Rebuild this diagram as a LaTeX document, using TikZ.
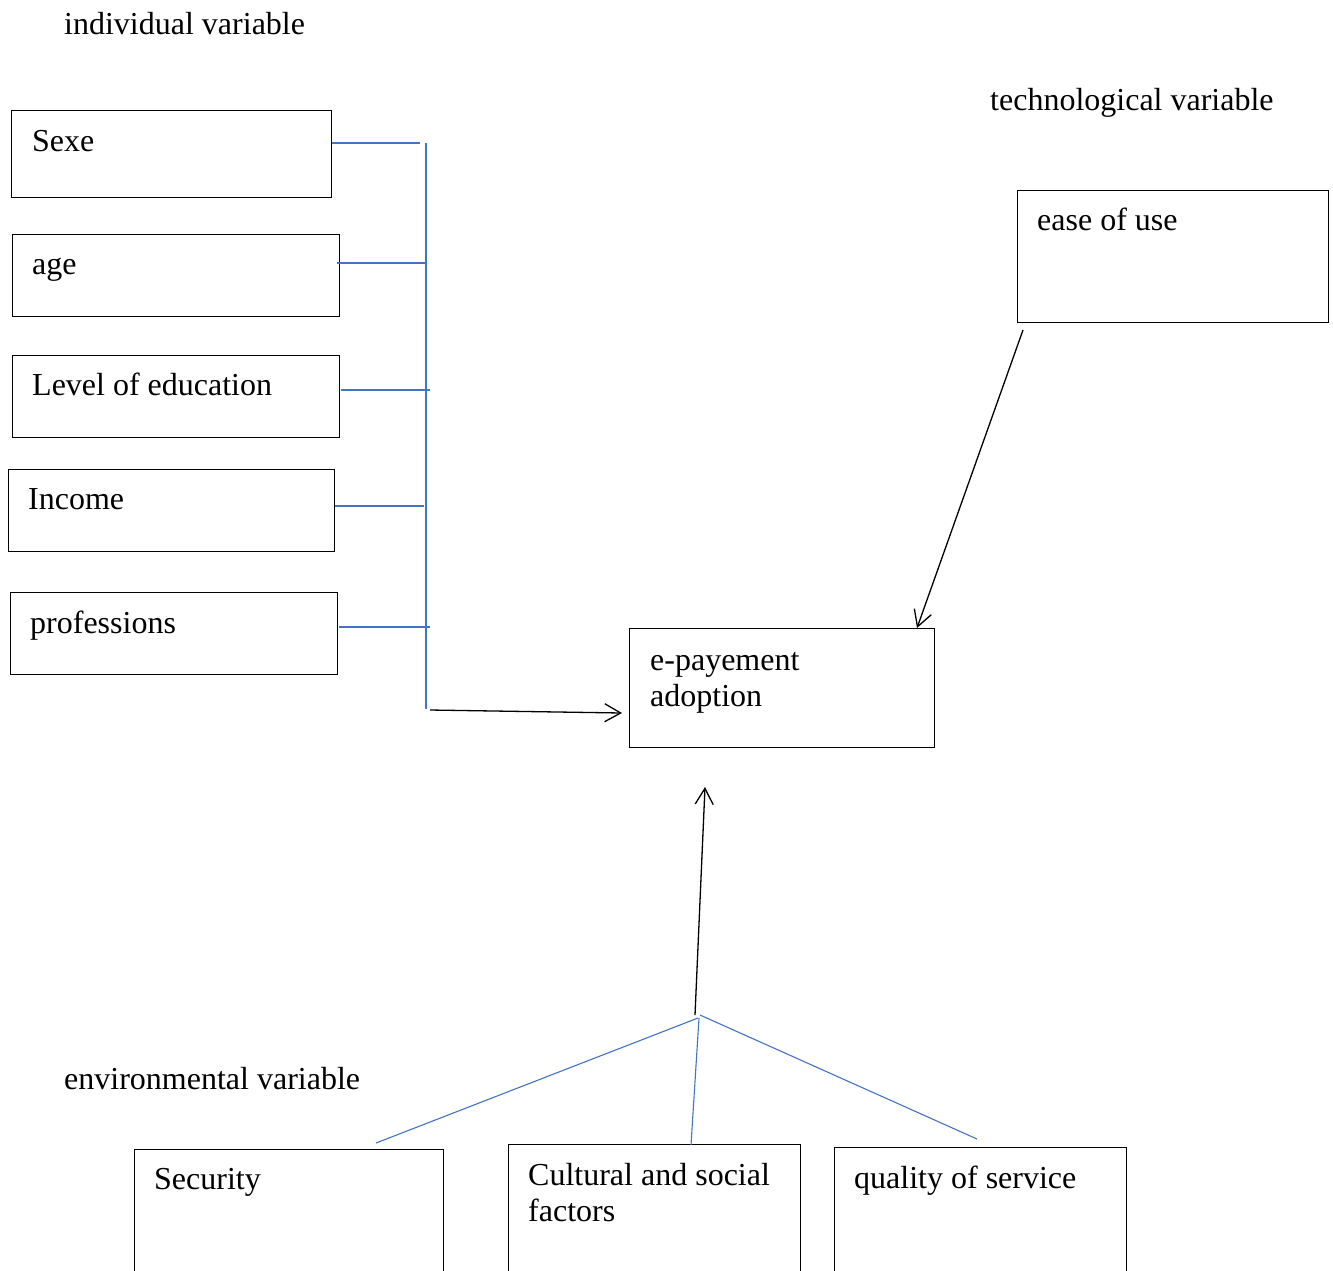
\documentclass[tikz,border=0pt]{standalone}
\usepackage{fontspec}
\setmainfont{Liberation Serif}
\usetikzlibrary{arrows.meta}
\definecolor{linkblue}{HTML}{4472C4}
\begin{document}
\begin{tikzpicture}[x=1pt,y=-1pt,
  box/.style={draw=black,line width=1.2pt,rectangle,inner sep=0pt,anchor=north west},
  txt/.style={anchor=base west,inner sep=0pt,align=left,font=\fontsize{32}{36}\selectfont},
  blue/.style={draw=linkblue,line width=1.1pt},
  arr/.style={draw=black,line width=1.3pt,-{Straight Barb[length=16pt,width=18pt,line width=1.3pt]}}]
\useasboundingbox[fill=white] (0,0) rectangle (1333,1270);
\clip (0,0) rectangle (1333,1270);
% headings
\node[txt] (hind) at (64,34) {individual variable};
\node[txt] (htech) at (990,110) {technological variable};
\node[txt] (henv) at (64,1089) {environmental variable};
% individual boxes
\node[box,minimum width=320pt,minimum height=87pt] (sexe) at (11,110) {};
\node[txt] at (32,151) {Sexe};
\node[box,minimum width=327pt,minimum height=82pt] (age) at (12,234) {};
\node[txt] at (32,274) {age};
\node[box,minimum width=327pt,minimum height=82pt] (edu) at (12,355) {};
\node[txt] at (32,395) {Level of education};
\node[box,minimum width=326pt,minimum height=82pt] (inc) at (8,469) {};
\node[txt] at (28,509) {Income};
\node[box,minimum width=327pt,minimum height=82pt] (prof) at (10,592) {};
\node[txt] at (30,633) {professions};
% technological
\node[box,minimum width=311pt,minimum height=132pt] (ease) at (1017,190) {};
\node[txt] at (1037,230) {ease of use};
% target
\node[box,minimum width=305pt,minimum height=119pt] (epay) at (629,628) {};
\node[txt] at (650,706) {e-payement\\adoption};
% environmental
\node[box,minimum width=309pt,minimum height=200pt] (sec) at (134,1149) {};
\node[txt] at (154,1189) {Security};
\node[box,minimum width=292pt,minimum height=200pt] (cult) at (508,1144) {};
\node[txt] at (528,1221) {Cultural and social\\factors};
\node[box,minimum width=292pt,minimum height=200pt] (qual) at (834,1147) {};
\node[txt] at (854,1188) {quality of service};
% individual connectors
\coordinate (bartop) at (426,143);
\coordinate (barbot) at (426,709);
\draw[blue] (bartop) -- (barbot);
\draw[blue] (sexe.east |- 0,143) -- (420,143);
\draw[blue] (337,263) -- (age.east |- 0,263) -- (426,263);
\draw[blue] (341,390) -- (430,390);
\draw[blue] (inc.east |- 0,506) -- (424,506);
\draw[blue] (339,627) -- (430,627);
\coordinate (arrstart) at (430,710);
\draw[arr] (arrstart) -- (622,713);
% technological connector
\draw[arr] (1023,330) -- (epay.north -| 917,0);
% environmental connectors
\coordinate (join) at (698,1018);
\draw[blue] (376,1143) -- (join);
\draw[blue] (691,1145) -- (699,1018);
\draw[blue] (700,1015) -- (977,1139);
\coordinate (envtop) at (705,787);
\draw[arr] (695,1015) -- (envtop);
\end{tikzpicture}
\end{document}
